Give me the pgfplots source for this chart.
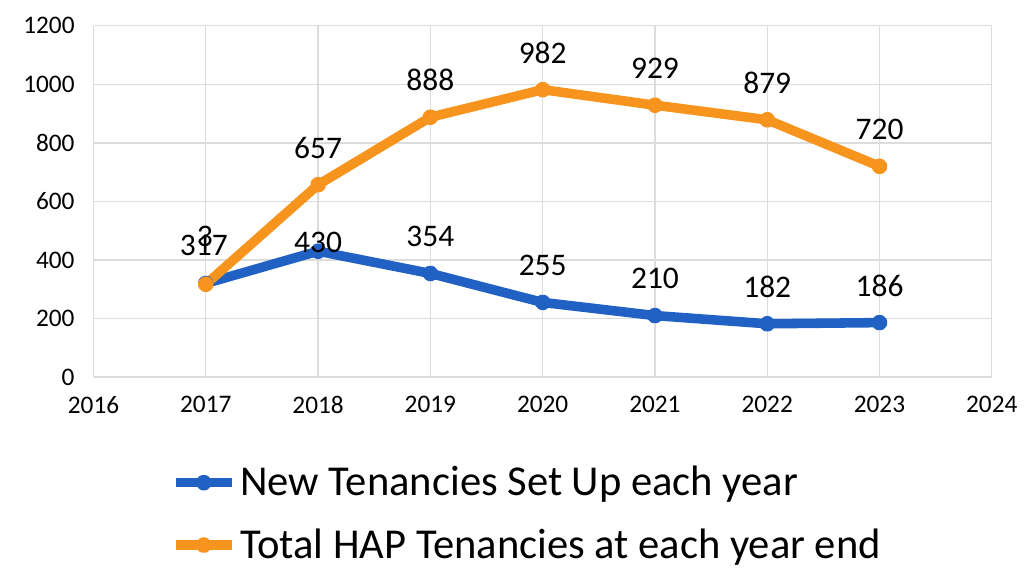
\documentclass[border=0pt]{standalone}
\usepackage{fontspec}
\setmainfont{Carlito}
\usepackage{pgfplots}
\pgfplotsset{compat=1.18}
\definecolor{newblue}{RGB}{33,97,196}
\definecolor{totorange}{RGB}{247,148,30}
\definecolor{gridgray}{RGB}{220,220,220}
\begin{document}
\begin{tikzpicture}
\begin{axis}[
  name=main, scale only axis, width=451.5pt, height=176.5pt,
  xmin=2016, xmax=2024, ymin=0, ymax=1200,
  xtick={2016,...,2024}, ytick={0,200,...,1200},
  /pgf/number format/assume math mode=true,
  /pgf/number format/1000 sep={},
  tick label style={font=\fontsize{12.7}{14}\selectfont},
  xtick style={draw=none}, ytick style={draw=none},
  yticklabel style={xshift=-6pt},
  xticklabel style={yshift=-6pt},
  axis line style={draw=none},
  grid=major, major grid style={gridgray, line width=0.6pt},
  legend style={draw=none, fill=none, inner sep=0pt,
    font=\fontsize{21.4}{24}\selectfont, row sep=11pt,
    at={(0.086,-0.242)}, anchor=north west, cells={anchor=west}},
  legend image code/.code={\draw[mark repeat=2,mark phase=2,#1] plot coordinates {(0pt,0pt) (14pt,0pt) (28pt,0pt)};},
  legend cell align=left,
  every node near coord/.append style={font=\fontsize{15.8}{18}\selectfont, black, anchor=center, yshift=18.5pt},
  clip=false,
]
\addplot[newblue, line width=4.8pt, mark=*, mark size=1.6pt, line join=round] coordinates {
  (2017,320) (2018,430) (2019,354) (2020,255) (2021,210) (2022,182) (2023,186)};
\addlegendentry[xshift=-4pt]{New Tenancies Set Up each year}
\addplot[totorange, line width=4.8pt, mark=*, mark size=1.6pt, line join=round] coordinates {
  (2017,317) (2018,657) (2019,888) (2020,982) (2021,929) (2022,879) (2023,720)};
\addlegendentry[xshift=-4pt]{Total HAP Tenancies at each year end}
% data labels
\addplot[draw=none, forget plot, nodes near coords, point meta=explicit symbolic]
  coordinates {(2019,354)[354] (2020,255)[255] (2021,210)[210] (2022,182)[182] (2023,186)[186]};
\addplot[draw=none, forget plot, nodes near coords, point meta=explicit symbolic,
  every node near coord/.append style={yshift=-14pt}]
  coordinates {(2018,430)[430]};
\addplot[draw=none, forget plot, nodes near coords, point meta=explicit symbolic]
  coordinates {(2018,657)[657] (2019,888)[888] (2020,982)[982] (2021,929)[929] (2022,879)[879] (2023,720)[720]};
\addplot[draw=none, forget plot, nodes near coords, point meta=explicit symbolic,
  every node near coord/.append style={xshift=-1pt, yshift=1pt}]
  coordinates {(2017,317)[317]};
\addplot[draw=none, forget plot, nodes near coords, point meta=explicit symbolic,
  every node near coord/.append style={xshift=-0.5pt, yshift=5pt}]
  coordinates {(2017,320)[3]};
\end{axis}
\path (main.south west) ++(-47pt,-96.5pt) rectangle ++(512pt,286pt);
\end{tikzpicture}
\end{document}
